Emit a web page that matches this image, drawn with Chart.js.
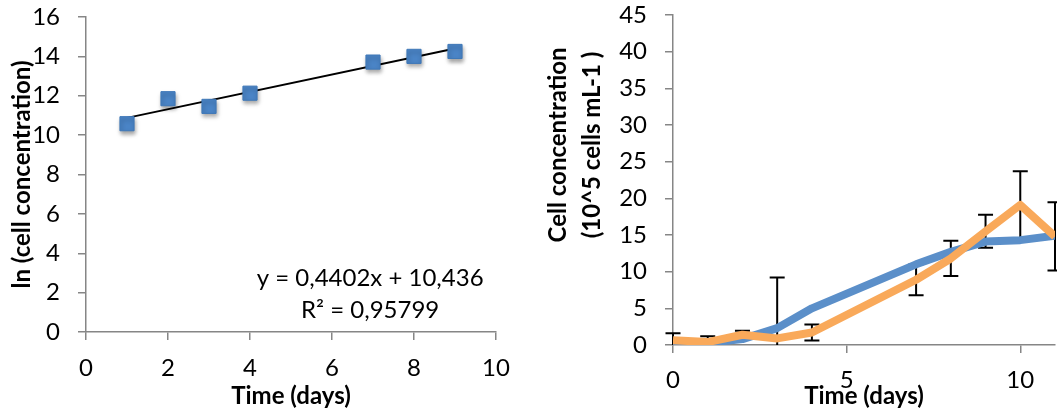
<!DOCTYPE html>
<html>
<head>
<meta charset="utf-8">
<title>Cell growth</title>
<script src="https://cdn.jsdelivr.net/npm/chart.js@4.4.1/dist/chart.umd.min.js"></script>
<style>
  html, body { margin: 0; padding: 0; background: #fff; }
  #wrap { position: relative; width: 1057px; height: 416px; overflow: hidden; }
  .box { position: absolute; top: 0; height: 416px; }
  #left { left: 0; width: 528px; }
  #right { left: 528px; width: 529px; }
</style>
</head>
<body>
<div id="wrap">
  <div class="box" id="left"><canvas id="lnChart"></canvas></div>
  <div class="box" id="right"><canvas id="cellChart"></canvas></div>
</div>
<script>
//ln chart data
const lnDays = [1, 2, 3, 4, 7, 8, 9];
const lnValues = [10.58, 11.85, 11.46, 12.13, 13.71, 14.0, 14.25];
const trendSlope = 0.4402;
const trendIntercept = 10.436;
const trendLabel = 'y = 0,4402x + 10,436';
const r2Label = 'R² = 0,95799';
const lnTicksX = [0, 2, 4, 6, 8, 10];
const lnTicksY = [0, 2, 4, 6, 8, 10, 12, 14, 16];

//cell concentration data
const growthDays = [0, 1, 2, 3, 4, 7, 8, 9, 10, 11];
const blueCells = [0.0, 0.3, 0.8, 2.3, 5.0, 11.0, 12.7, 14.1, 14.3, 14.9];
const orangeCells = [0.65, 0.4, 1.4, 0.9, 1.7, 8.9, 11.8, 15.5, 19.1, 14.8];
const orangeErr = [0.95, 0.8, 0.55, 8.3, 1.1, 2.1, 2.4, 2.25, 4.6, 4.65];
const cellTicksX = [0, 5, 10];
const cellTicksY = [0, 5, 10, 15, 20, 25, 30, 35, 40, 45];
const cellTitle = ['Cell concentration', '(10^5 cells mL-1 )'];

const FONT = 'Lato, "Open Sans", sans-serif';
const AXIS_GREY = '#868686';
Chart.defaults.font.family = FONT;
Chart.defaults.color = '#000';

const axisGrid = {
  drawOnChartArea: false,
  drawTicks: true,
  tickLength: 8,
  color: AXIS_GREY,
  lineWidth: 1.5
};
const axisBorder = { color: AXIS_GREY, width: 1.5 };
const tickFont = { size: 24 };
const titleFont = { size: 24, weight: 'bold' };

// keep only the listed tick values
const fixTicks = list => scale => {
  scale.ticks = list.map(v => ({ value: v }));
};

// fixed width for the y axis, and no extra room asked for the end labels
const fitY = w => scale => {
  scale.width = w;
  scale.paddingTop = 10;
  scale.paddingBottom = 10;
};

//soft shadow under the square markers
const markerShadow = {
  id: 'markerShadow',
  beforeDatasetDraw(chart, args) {
    if (args.index !== 0) return;
    const ctx = chart.ctx;
    ctx.save();
    ctx.shadowColor = 'rgba(0,0,0,0.35)';
    ctx.shadowBlur = 4;
    ctx.shadowOffsetX = 1;
    ctx.shadowOffsetY = 3;
  },
  afterDatasetDraw(chart, args) {
    if (args.index !== 0) return;
    chart.ctx.restore();
  }
};

//trendline equation text
const equationText = {
  id: 'equationText',
  afterDatasetsDraw(chart) {
    const ctx = chart.ctx;
    const x = chart.scales.x.getPixelForValue(6.93);
    ctx.save();
    ctx.font = '24px ' + FONT;
    ctx.fillStyle = '#000';
    ctx.textAlign = 'center';
    ctx.textBaseline = 'middle';
    ctx.fillText(trendLabel, x, chart.scales.y.getPixelForValue(2.73));
    ctx.fillText(r2Label, x, chart.scales.y.getPixelForValue(1.1));
    ctx.restore();
  }
};

const lnChart = new Chart(document.getElementById('lnChart'), {
  type: 'scatter',
  data: {
    datasets: [
      {
        label: 'ln',
        data: lnDays.map((d, i) => ({ x: d, y: lnValues[i] })),
        backgroundColor: '#4a84c6',
        borderColor: '#3f78b8',
        borderWidth: 1,
        pointStyle: 'rect',
        pointRadius: 10,
        pointHoverRadius: 10
      },
      {
        type: 'line',
        label: 'trend',
        data: [lnDays[0], lnDays[lnDays.length - 1]].map(d => ({ x: d, y: trendSlope * d + trendIntercept })),
        borderColor: '#000',
        borderWidth: 2,
        pointRadius: 0,
        fill: false
      }
    ]
  },
  options: {
    responsive: true,
    maintainAspectRatio: false,
    animation: false,
    layout: { padding: { top: 17, right: 32, left: 0, bottom: 0 } },
    plugins: { legend: { display: false }, tooltip: { enabled: false } },
    scales: {
      x: {
        type: 'linear',
        min: 0,
        max: 10,
        afterBuildTicks: fixTicks(lnTicksX),
        afterFit: scale => { scale.height = 84; },
        grid: axisGrid,
        border: axisBorder,
        ticks: { font: tickFont, padding: 14, maxRotation: 0 },
        title: { display: true, text: 'Time (days)', font: titleFont, padding: { top: 0, bottom: 5 } }
      },
      y: {
        min: 0,
        max: 16,
        afterBuildTicks: fixTicks(lnTicksY),
        afterFit: fitY(86),
        grid: axisGrid,
        border: axisBorder,
        ticks: { font: tickFont, padding: 18 },
        title: { display: true, text: 'ln (cell concentration)', font: titleFont, padding: { top: 8, bottom: 0 } }
      }
    }
  },
  plugins: [markerShadow, equationText]
});

//error bars for the orange series, drawn under the lines
const errorBars = {
  id: 'errorBars',
  beforeDatasetsDraw(chart) {
    const ctx = chart.ctx;
    const xs = chart.scales.x;
    const ys = chart.scales.y;
    const area = chart.chartArea;
    ctx.save();
    ctx.beginPath();
    ctx.rect(area.left - 10, area.top - 2, area.right - area.left + 20, area.bottom - area.top + 2);
    ctx.clip();
    ctx.strokeStyle = '#000';
    ctx.lineWidth = 2;
    growthDays.forEach((d, i) => {
      const x = xs.getPixelForValue(d);
      const top = ys.getPixelForValue(orangeCells[i] + orangeErr[i]);
      const bot = ys.getPixelForValue(orangeCells[i] - orangeErr[i]);
      ctx.beginPath();
      ctx.moveTo(x, top);
      ctx.lineTo(x, bot);
      ctx.moveTo(x - 7.5, top);
      ctx.lineTo(x + 7.5, top);
      ctx.moveTo(x - 7.5, bot);
      ctx.lineTo(x + 7.5, bot);
      ctx.stroke();
    });
    ctx.restore();
  }
};

//two line y axis title, sits higher than the axis middle
const cellAxisTitle = {
  id: 'cellAxisTitle',
  afterDraw(chart) {
    const ctx = chart.ctx;
    ctx.save();
    ctx.font = 'bold 24px ' + FONT;
    ctx.fillStyle = '#000';
    ctx.textAlign = 'center';
    ctx.textBaseline = 'middle';
    [30, 64].forEach((x, i) => {
      ctx.save();
      ctx.translate(x, 145);
      ctx.rotate(-Math.PI / 2);
      ctx.fillText(cellTitle[i], 0, 0);
      ctx.restore();
    });
    ctx.restore();
  }
};

const cellChart = new Chart(document.getElementById('cellChart'), {
  type: 'line',
  data: {
    datasets: [
      {
        label: 'blue',
        data: growthDays.map((d, i) => ({ x: d, y: blueCells[i] })),
        borderColor: '#5b8fc9',
        borderWidth: 8,
        borderJoinStyle: 'round',
        pointRadius: 0,
        fill: false,
        order: 2
      },
      {
        label: 'orange',
        data: growthDays.map((d, i) => ({ x: d, y: orangeCells[i] })),
        borderColor: '#f9a95a',
        borderWidth: 8,
        borderJoinStyle: 'round',
        pointRadius: 0,
        fill: false,
        order: 1
      }
    ]
  },
  options: {
    responsive: true,
    maintainAspectRatio: false,
    animation: false,
    layout: { padding: { top: 15, right: 2, left: 0, bottom: 0 } },
    plugins: { legend: { display: false }, tooltip: { enabled: false } },
    scales: {
      x: {
        type: 'linear',
        min: 0,
        max: 11,
        afterBuildTicks: fixTicks(cellTicksX),
        afterFit: scale => { scale.height = 71; },
        grid: axisGrid,
        border: axisBorder,
        ticks: { font: tickFont, padding: 13, maxRotation: 0 },
        title: { display: true, text: 'Time (days)', font: titleFont, padding: { top: 0, bottom: 5 } }
      },
      y: {
        min: 0,
        max: 45,
        afterBuildTicks: fixTicks(cellTicksY),
        afterFit: fitY(145),
        grid: axisGrid,
        border: axisBorder,
        ticks: { font: tickFont, padding: 18 }
      }
    }
  },
  plugins: [errorBars, cellAxisTitle]
});
</script>
</body>
</html>
